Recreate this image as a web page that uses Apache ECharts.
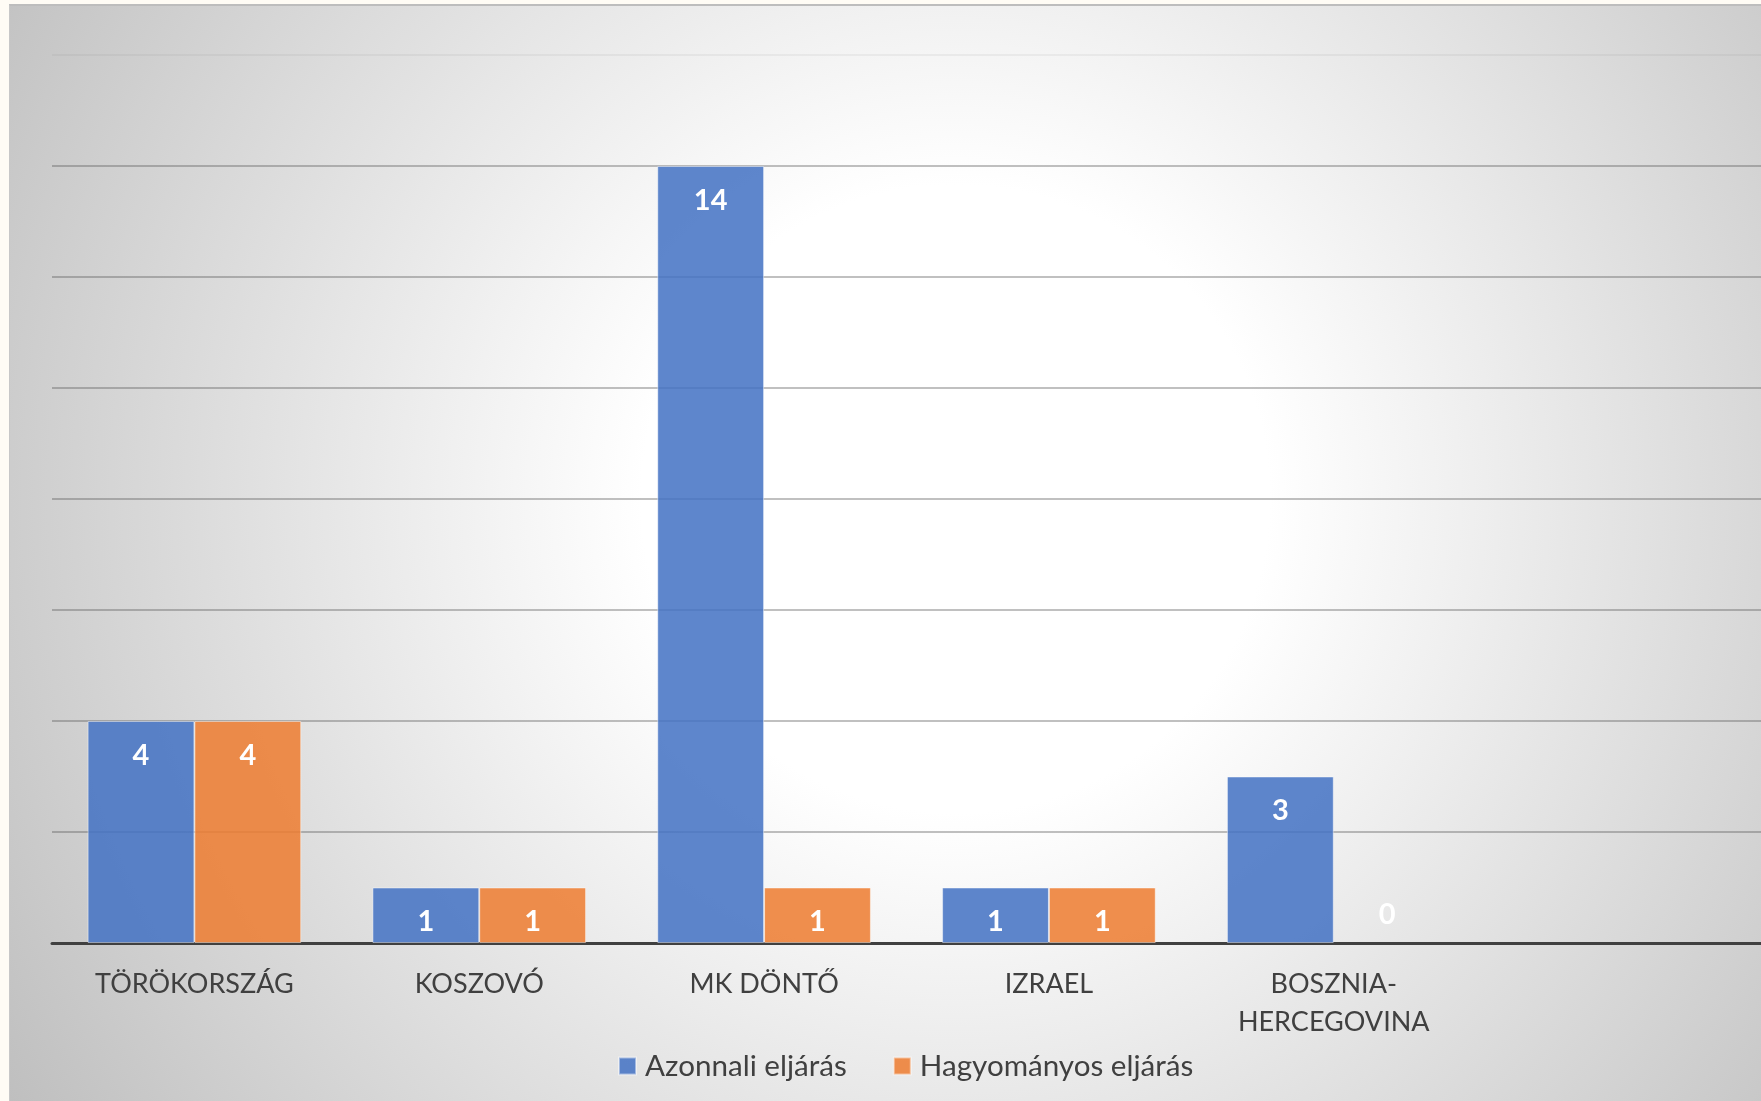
<!DOCTYPE html>
<html>
<head>
<meta charset="utf-8">
<script src="https://cdn.jsdelivr.net/npm/echarts@6/dist/echarts.min.js"></script>
<style>
html,body{margin:0;padding:0;width:1761px;height:1101px;overflow:hidden;background:#fffcf5;}
#bg{position:absolute;left:9px;top:4px;width:1752px;height:1097px;border-top:2px solid #bdbdbd;border-left:1px solid #c8c8c8;box-sizing:border-box;
background:radial-gradient(circle farthest-corner at 54% 45%, #ffffff 0%, #ffffff 28%, #f0f0f0 45%, #bfbfbf 100%);}
#chart{position:absolute;left:0;top:0;width:1761px;height:1101px;}
</style>
</head>
<body>
<div id="bg"></div>
<div id="chart"></div>
<script>
const categories = ['TÖRÖKORSZÁG', 'KOSZOVÓ', 'MK DÖNTŐ', 'IZRAEL', 'BOSZNIA-\nHERCEGOVINA', ''];
const seriesNames = ['Azonnali eljárás', 'Hagyományos eljárás'];
const azonnali = [4, 1, 14, 1, 3];
const hagyomanyos = [4, 1, 1, 1, 0];
const yMin = 0, yMax = 16, yInterval = 2;

const chart = echarts.init(document.getElementById('chart'), null, {renderer: 'canvas'});
const FONT = 'Lato';
function mkData(arr) {
  return arr.map(v => v === 0
    ? {value: v, itemStyle: {borderWidth: 0}, label: {position: 'top', distance: 14}}
    : v);
}
const labelCfg = {
  show: true, position: 'insideTop', distance: 20,
  color: '#ffffff', fontFamily: FONT, fontWeight: 'bold', fontSize: 29
};
const gl = 'rgba(90,90,90,0.5)';
const gridColors = [gl, gl, gl, gl, gl, gl, gl, gl, 'rgba(120,120,120,0.12)'];
chart.setOption({
  backgroundColor: 'transparent',
  animation: false,
  grid: {left: 52, right: -6, top: 55, bottom: 158, containLabel: false},
  legend: {
    data: seriesNames, left: 613, top: 1046, icon: 'rect', itemWidth: 17, itemHeight: 17, itemGap: 46,
    textStyle: {fontFamily: FONT, fontSize: 29.6, color: '#404040', padding: [0, 0, 0, 4]}
  },
  xAxis: {
    type: 'category', data: categories,
    axisLine: {lineStyle: {color: '#404040', width: 3}},
    axisTick: {show: false},
    axisLabel: {interval: 0, margin: 22, fontFamily: FONT, fontSize: 27, color: '#404040', lineHeight: 38, verticalAlign: 'top'}
  },
  yAxis: {
    type: 'value', min: yMin, max: yMax, interval: yInterval,
    axisLabel: {show: false}, axisLine: {show: false}, axisTick: {show: false},
    splitLine: {lineStyle: {color: gridColors, width: 1.5}}
  },
  series: [
    {name: seriesNames[0], type: 'bar', data: mkData(azonnali), barWidth: '37.5%', barGap: '0%',
     itemStyle: {color: 'rgba(68,114,196,0.86)', borderColor: 'rgba(255,255,255,0.45)', borderWidth: 1}, label: labelCfg},
    {name: seriesNames[1], type: 'bar', data: mkData(hagyomanyos), barWidth: '37.5%', barGap: '0%',
     itemStyle: {color: 'rgba(237,125,49,0.86)', borderColor: 'rgba(255,255,255,0.45)', borderWidth: 1}, label: labelCfg}
  ]
});
</script>
</body>
</html>
